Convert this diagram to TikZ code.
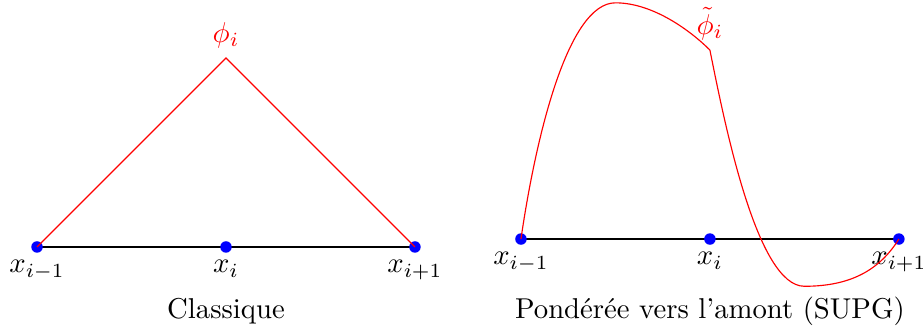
\documentclass[tikz,border=0pt]{standalone}
\usepackage{amsmath,amssymb}
\usepackage{xcolor}
\usepackage{tikz}
\usetikzlibrary{positioning,backgrounds}
\definecolor{fonctionrouge}{HTML}{FF0000}
\definecolor{noeudbleu}{HTML}{0000FF}

\tikzset{
  noeud/.style={circle,fill=noeudbleu,inner sep=0pt,minimum size=4pt},
  axe/.style={black,thick},
  fonction/.style={fonctionrouge,line width=0.4pt},
  legende/.style={anchor=base}
}

\begin{document}
\begin{tikzpicture}[x=2.314cm,y=2.314cm]
  \useasboundingbox (-0.196,-0.450) rectangle (4.694,1.307);

  % Fonction de base classique
  \foreach \n/\lab in {0/{x_{i-1}}, 1/{x_i}, 2/{x_{i+1}}} {
    \node[noeud] (g\n) at (\n,0) {};
    \node[below=-1pt of g\n] (lg\n) {$\lab$};
  }
  \begin{pgfonlayer}{background}
    \draw[axe] (g0.center) -- (g2.center);
  \end{pgfonlayer}
  \coordinate (sommet) at (1,1);
  \draw[fonction] (g0.center) -- (sommet) -- (g2.center);
  \node[text=fonctionrouge,above] (lphi) at (sommet) {$\phi_i$};
  \node[legende] (cap1) at (1,-0.381) {Classique};

  % Fonction de poids décentrée (SUPG)
  \begin{scope}[shift={(2.561,0.042)}]
    \foreach \n/\lab in {0/{x_{i-1}}, 1/{x_i}, 2/{x_{i+1}}} {
      \node[noeud] (d\n) at (\n,0) {};
      \node[below=-1pt of d\n] (ld\n) {$\lab$};
    }
    \begin{pgfonlayer}{background}
      \draw[axe] (d0.center) -- (d2.center);
    \end{pgfonlayer}
    \coordinate (pic) at (0.5,1.25);
    \coordinate (coude) at (1,1);
    \coordinate (creux) at (1.5,-0.25);
    \draw[fonction] (d0.center) .. controls (0.08,0.55) and (0.25,1.25) .. (pic)
          .. controls (0.7,1.25) and (0.9,1.1) .. (coude)
          .. controls (1.08,0.6) and (1.25,-0.25) .. (creux)
          .. controls (1.75,-0.25) and (1.9,-0.16) .. (d2.center);
    \node[text=fonctionrouge,above] (lphit) at (coude) {$\tilde{\phi}_i$};
    \node[legende] (cap2) at (1,-0.423) {Pondérée vers l'amont (SUPG)};
  \end{scope}

\end{tikzpicture}
\end{document}
